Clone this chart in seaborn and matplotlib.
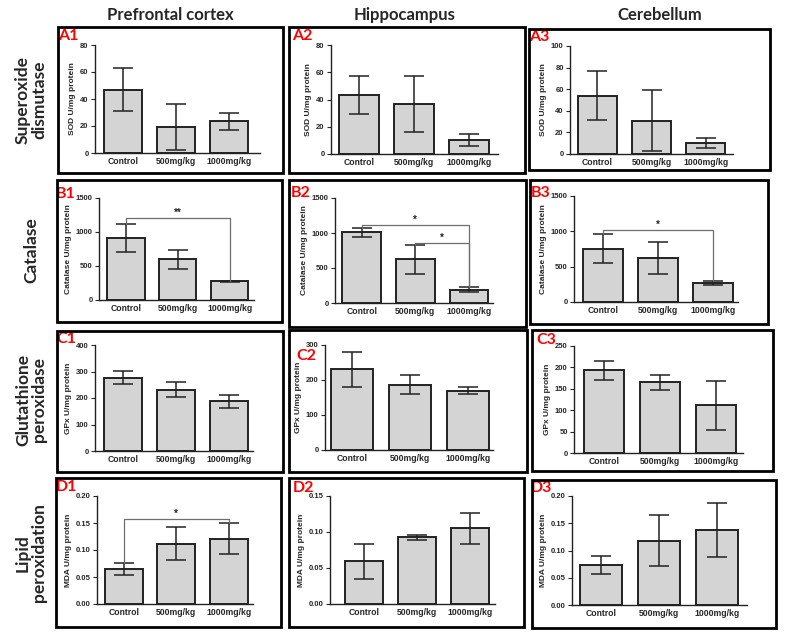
import numpy as np
import pandas as pd
import matplotlib
matplotlib.use('Agg')
import matplotlib.pyplot as plt
import seaborn as sns
from matplotlib.patches import Rectangle
from matplotlib.ticker import FormatStrFormatter

sns.set_theme(style='ticks')
plt.rcParams['font.family'] = ['Liberation Sans', 'DejaVu Sans']

# ---------------- data ----------------
groups = ['Control', '500mg/kg', '1000mg/kg']
regions = ['Prefrontal cortex', 'Hippocampus', 'Cerebellum']
assays = ['Superoxide\ndismutase', 'Catalase', 'Glutathione\nperoxidase', 'Lipid\nperoxidation']
ylabels = ['SOD U/mg protein', 'Catalase U/mg protein', 'GPx U/mg protein', 'MDA U/mg protein']
panel_ids = [['A1', 'A2', 'A3'], ['B1', 'B2', 'B3'], ['C1', 'C2', 'C3'], ['D1', 'D2', 'D3']]

sod_mean = [[47, 19.5, 23.5], [43, 37, 10.5], [54, 31, 10.5]]
sod_sd = [[16, 17, 6.3], [14, 20.5, 4.5], [22.5, 28, 4.5]]
cat_mean = [[910, 600, 275], [1008, 625, 189], [757, 625, 263]]
cat_sd = [[210, 137, 10], [64, 210, 35], [212, 224, 28]]
gpx_mean = [[276, 232, 188], [231, 187, 170], [193, 165, 111]]
gpx_sd = [[25, 29, 25], [50, 26, 9], [22, 17, 58]]
mda_mean = [[0.065, 0.112, 0.121], [0.0595, 0.093, 0.105], [0.073, 0.118, 0.138]]
mda_sd = [[0.011, 0.031, 0.029], [0.0245, 0.0035, 0.021], [0.016, 0.047, 0.05]]

sod_ymax = [80, 80, 100]
cat_ymax = [1500, 1500, 1500]
gpx_ymax = [400, 300, 250]
mda_ymax = [0.20, 0.15, 0.20]
sod_step = [20, 20, 20]
cat_step = [500, 500, 500]
gpx_step = [100, 100, 50]
mda_step = [0.05, 0.05, 0.05]

# significance brackets: (group i, group j, level, label)
brackets = {
    'B1': [(0, 2, 1208, '**')],
    'B2': [(0, 2, 1121, '*'), (1, 2, 861, '*')],
    'B3': [(0, 2, 1016, '*')],
    'D1': [(0, 2, 0.158, '*')],
}

means = [sod_mean, cat_mean, gpx_mean, mda_mean]
sds = [sod_sd, cat_sd, gpx_sd, mda_sd]
ymaxs = [sod_ymax, cat_ymax, gpx_ymax, mda_ymax]
steps = [sod_step, cat_step, gpx_step, mda_step]

# ---------------- layout (pixels) ----------------
W, H = 786, 639
fig = plt.figure(figsize=(W / 100, H / 100), dpi=100)
fig.patch.set_facecolor('white')

def frect(x0, y0, x1, y1):
    return [x0 / W, 1 - y1 / H, (x1 - x0) / W, (y1 - y0) / H]

# axes rects (x0, top, x1, bottom) and xlim
axes_px = [
    [(95, 45, 260, 153, -0.53, 2.58), (331, 45, 498, 154, -0.51, 2.53), (570, 46, 733, 154, -0.50, 2.50)],
    [(99, 198, 254, 300, -0.52, 2.47), (335, 198, 493, 303, -0.50, 2.45), (574, 196, 738, 302, -0.53, 2.46)],
    [(95, 345, 253, 451, -0.53, 2.45), (325, 345, 493, 450, -0.46, 2.43), (574, 346, 743, 453, -0.54, 2.48)],
    [(97, 496, 253, 604, -0.51, 2.46), (330, 496, 495, 604, -0.64, 2.47), (572, 496, 747, 605, -0.50, 2.52)],
]
boxes_px = [
    [(58, 27, 283, 173), (289, 27, 525, 173), (529, 29, 770, 170)],
    [(57, 180, 282, 322), (289, 180, 526, 327), (530, 180, 768, 324)],
    [(57, 331, 283, 472), (289, 330, 527, 472), (532, 330, 773, 471)],
    [(56, 478, 281, 627), (289, 478, 524, 627), (532, 480, 776, 628)],
]
labels_px = [
    [(58, 29), (292, 29), (529, 30)],
    [(56, 187), (291, 186), (531, 186)],
    [(56, 332), (296, 349), (536, 333)],
    [(56, 480), (293, 481), (531, 481)],
]

bar_color = '#d4d4d4'

for r in range(4):
    for c in range(3):
        x0, y0, x1, y1, xl, xr = axes_px[r][c]
        ax = fig.add_axes(frect(x0, y0, x1, y1))
        df = pd.DataFrame({'group': groups, 'value': means[r][c]})
        sns.barplot(data=df, x='group', y='value', ax=ax, color=bar_color,
                    edgecolor='#222222', linewidth=1.4, errorbar=None, width=0.72,
                    saturation=1)
        ax.errorbar(np.arange(3), means[r][c], yerr=sds[r][c], fmt='none',
                    ecolor='#222222', elinewidth=1.1, capsize=7, capthick=1.1, zorder=5)
        ax.set_xlim(xl, xr)
        ax.set_ylim(0, ymaxs[r][c])
        ax.set_yticks(np.arange(0, ymaxs[r][c] + steps[r][c] / 2, steps[r][c]))
        if r == 3:
            ax.yaxis.set_major_formatter(FormatStrFormatter('%.2f'))
        else:
            ax.yaxis.set_major_formatter(FormatStrFormatter('%d'))
        ax.set_xlabel('')
        ax.set_ylabel(ylabels[r], fontsize=6, fontweight='bold', labelpad=3)
        ax.tick_params(axis='x', length=0, pad=3, labelsize=6.2)
        ax.tick_params(axis='y', length=3, width=0.8, pad=1.5, labelsize=5.5)
        for lab in ax.get_xticklabels() + ax.get_yticklabels():
            lab.set_fontweight('bold')
        sns.despine(ax=ax)
        for s in ['left', 'bottom']:
            ax.spines[s].set_linewidth(1.0)
            ax.spines[s].set_color('#222222')
        ax.set_facecolor('white')
        pid = panel_ids[r][c]
        for (i, j, lvl, lab) in brackets.get(pid, []):
            ti = means[r][c][i] + sds[r][c][i]
            tj = means[r][c][j] + sds[r][c][j]
            ax.plot([i, i, j, j], [ti, lvl, lvl, tj], color='#6e6e6e', lw=0.9, zorder=6)
            ax.text((i + j) / 2, lvl, lab, ha='center', va='bottom', fontsize=7,
                    fontweight='bold', color='#222222')
        # panel box
        bx0, by0, bx1, by1 = boxes_px[r][c]
        fig.add_artist(Rectangle((bx0 / W, 1 - by1 / H), (bx1 - bx0) / W, (by1 - by0) / H,
                                 transform=fig.transFigure, fill=False, lw=2.0,
                                 edgecolor='black', zorder=10))
        lx, ly = labels_px[r][c]
        fig.text(lx / W, 1 - ly / H, pid, color='#ff0000', fontsize=11.5,
                 fontweight='bold', family=['Lato', 'DejaVu Sans'], ha='left', va='top')

# column titles
for x, t in zip([170, 405, 660], regions):
    fig.text(x / W, 1 - 15 / H, t, ha='center', va='center', fontsize=12,
             fontweight='bold', family=['Lato', 'DejaVu Sans'])

# row titles
for y, t in zip([100, 250, 400, 553], assays):
    fig.text(31 / W, 1 - y / H, t, ha='center', va='center', rotation=90,
             fontsize=12.5, fontweight='bold', family=['Lato', 'DejaVu Sans'],
             linespacing=1.0)

fig.savefig('out.png', dpi=100, facecolor='white')
